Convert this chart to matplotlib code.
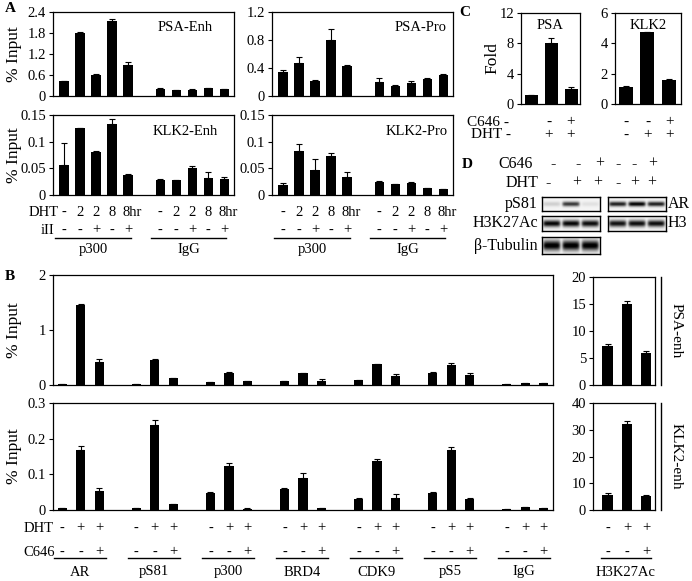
import numpy as np
import matplotlib
matplotlib.use("Agg")
import matplotlib.pyplot as plt
from matplotlib import transforms
from matplotlib.lines import Line2D

plt.rcParams["font.family"] = ["Liberation Serif", "DejaVu Serif"]
plt.rcParams["font.size"] = 10.5

# %% data
# panel A  (p300 bars then IgG bars)
a_dht = ["-", "2", "2", "8", "8hr"]
a_iii = ["-", "-", "+", "-", "+"]
a_psa_enh = [0.42, 1.79, 0.60, 2.13, 0.88, 0.21, 0.16, 0.18, 0.22, 0.19]
a_psa_enh_err = [0.02, 0.04, 0.02, 0.08, 0.10, 0.01, 0.01, 0.01, 0.02, 0.01]
a_psa_pro = [0.34, 0.475, 0.21, 0.80, 0.43, 0.20, 0.145, 0.19, 0.24, 0.30]
a_psa_pro_err = [0.03, 0.08, 0.02, 0.16, 0.01, 0.06, 0.01, 0.02, 0.02, 0.02]
a_klk2_enh = [0.057, 0.125, 0.080, 0.133, 0.037, 0.029, 0.028, 0.050, 0.032, 0.030]
a_klk2_enh_err = [0.040, 0.001, 0.003, 0.009, 0.003, 0.001, 0.001, 0.004, 0.011, 0.004]
a_klk2_pro = [0.018, 0.083, 0.047, 0.073, 0.033, 0.025, 0.021, 0.022, 0.0125, 0.011]
a_klk2_pro_err = [0.004, 0.012, 0.020, 0.005, 0.010, 0.0005, 0.0005, 0.003, 0.001, 0.001]

# panel B
b_groups = ["AR", "pS81", "p300", "BRD4", "CDK9", "pS5", "IgG"]
b_dht = ["-", "+", "+"]
b_c646 = ["-", "-", "+"]
b_psa = [[0.02, 1.45, 0.42], [0.01, 0.46, 0.12], [0.05, 0.22, 0.07], [0.08, 0.21, 0.08],
         [0.09, 0.38, 0.16], [0.22, 0.36, 0.19], [0.01, 0.03, 0.03]]
b_psa_err = [[0.0, 0.02, 0.06], [0.0, 0.01, 0.01], [0.0, 0.01, 0.01], [0.0, 0.01, 0.03],
             [0.0, 0.01, 0.04], [0.01, 0.04, 0.03], [0.0, 0.0, 0.0]]
b_klk2 = [[0.006, 0.168, 0.053], [0.006, 0.238, 0.016], [0.047, 0.124, 0.004], [0.058, 0.090, 0.006],
          [0.031, 0.137, 0.035], [0.047, 0.167, 0.030], [0.003, 0.008, 0.005]]
b_klk2_err = [[0.001, 0.012, 0.008], [0.001, 0.013, 0.001], [0.003, 0.009, 0.001], [0.004, 0.014, 0.001],
              [0.004, 0.005, 0.009], [0.003, 0.009, 0.003], [0.0, 0.001, 0.001]]
h3_psa = [7.2, 15.0, 6.0]
h3_psa_err = [0.4, 0.6, 0.3]
h3_klk2 = [5.7, 32.0, 5.2]
h3_klk2_err = [0.8, 1.2, 0.5]

# panel C
c_psa = [1.15, 8.0, 2.0]
c_psa_err = [0.08, 0.7, 0.3]
c_klk2 = [1.1, 4.72, 1.6]
c_klk2_err = [0.08, 0.03, 0.03]

# panel D  (band intensities per lane)
d_c646 = ["-", "-", "+", "-", "-", "+"]
d_dht = ["-", "+", "+", "-", "+", "+"]
d_ps81 = [0.15, 0.75, 0.08]
d_ar = [0.85, 0.97, 0.85]
d_h3k27ac = [0.95, 0.95, 0.92]
d_h3 = [0.9, 0.92, 0.92]
d_tubulin = [1.0, 1.0, 1.0]

# %% helpers
W, H = 692, 581
fig = plt.figure(figsize=(W / 100, H / 100), dpi=100)


def box(x0, y0, x1, y1):
    return fig.add_axes([x0 / W, 1 - y1 / H, (x1 - x0) / W, (y1 - y0) / H])


def ftext(x, y, s, **kw):
    kw.setdefault("va", "center")
    fig.text(x / W, 1 - y / H, s, **kw)


def under(ax, x, ypix, s, **kw):
    tr = transforms.blended_transform_factory(ax.transData, fig.transFigure)
    kw.setdefault("ha", "center")
    kw.setdefault("va", "center")
    fig.text(x, 1 - ypix / H, s, transform=tr, **kw)


def underline(ax, x0, x1, ypix):
    tr = transforms.blended_transform_factory(ax.transData, fig.transFigure)
    fig.add_artist(Line2D([x0, x1], [1 - ypix / H] * 2, transform=tr, color="black", lw=1.0))


def vline(xpix, y0, y1):
    fig.add_artist(Line2D([xpix / W] * 2, [1 - y0 / H, 1 - y1 / H], transform=fig.transFigure,
                          color="black", lw=1.0))


def bars(ax, x, y, err, width, xlim, ylim, yticks, yticklabels):
    ax.bar(x, y, width, color="black")
    ax.errorbar(x, y, yerr=[np.zeros(len(err)), err], fmt="none", ecolor="black",
                elinewidth=0.8, capsize=2.5, capthick=0.8)
    ax.set_xlim(*xlim)
    ax.set_ylim(*ylim)
    ax.set_yticks(yticks)
    ax.set_yticklabels(yticklabels)
    ax.tick_params(axis="x", bottom=False, labelbottom=False)
    ax.tick_params(axis="y", direction="out", length=3, width=0.8, pad=2, labelsize=10.5)
    for s in ax.spines.values():
        s.set_linewidth(0.9)


def blot(ax, intens, sigma):
    n = len(intens)
    xs = np.linspace(0, n, 60 * n)
    ys = np.linspace(-1, 1, 40)
    img = np.full((len(ys), len(xs)), 0.04)
    for i, a in enumerate(intens):
        lane = np.exp(-((xs - (i + 0.5)) / 0.45) ** 8)
        band = np.exp(-(ys / sigma) ** 2)
        img += a * np.outer(band, lane)
    ax.imshow(np.clip(img, 0, 1), cmap="gray_r", vmin=0, vmax=1, aspect="auto",
              extent=[0, n, -1, 1], interpolation="bilinear")
    ax.set_xticks([])
    ax.set_yticks([])
    for s in ax.spines.values():
        s.set_linewidth(1.0)


# %% panel A
a_x = [0, 1, 2, 3, 4, 6, 7, 8, 9, 10]
a_xlim = (-0.7, 10.6)
ax_a1 = box(53, 12, 234, 96)
bars(ax_a1, a_x, a_psa_enh, a_psa_enh_err, 0.6, a_xlim, (0, 2.4),
     [0, 0.6, 1.2, 1.8, 2.4], ["0", "0.6", "1.2", "1.8", "2.4"])
ax_a1.text(0.73, 0.82, "PSA-Enh", transform=ax_a1.transAxes, ha="center", va="center")

ax_a2 = box(272, 12, 453, 96)
bars(ax_a2, a_x, a_psa_pro, a_psa_pro_err, 0.6, a_xlim, (0, 1.2),
     [0, 0.4, 0.8, 1.2], ["0", "0.4", "0.8", "1.2"])
ax_a2.text(0.82, 0.82, "PSA-Pro", transform=ax_a2.transAxes, ha="center", va="center")

ax_a3 = box(53, 115, 234, 195)
bars(ax_a3, a_x, a_klk2_enh, a_klk2_enh_err, 0.6, a_xlim, (0, 0.15),
     [0, 0.05, 0.1, 0.15], ["0", "0.05", "0.1", "0.15"])
ax_a3.text(0.73, 0.79, "KLK2-Enh", transform=ax_a3.transAxes, ha="center", va="center")

ax_a4 = box(272, 115, 453, 195)
bars(ax_a4, a_x, a_klk2_pro, a_klk2_pro_err, 0.6, a_xlim, (0, 0.15),
     [0, 0.05, 0.1, 0.15], ["0", "0.05", "0.1", "0.15"])
ax_a4.text(0.80, 0.79, "KLK2-Pro", transform=ax_a4.transAxes, ha="center", va="center")

for ax in [ax_a3, ax_a4]:
    for k, x in enumerate(a_x):
        lab = a_dht[k % 5]
        under(ax, x + (0.25 if lab == "8hr" else 0), 212, lab)
        under(ax, x, 230, a_iii[k % 5])
    underline(ax, -0.6, 4.2, 238)
    underline(ax, 5.4, 10.1, 238)
    under(ax, 1.8, 250, "p300")
    under(ax, 7.75, 250, "IgG")
ftext(59, 212, "DHT", ha="right")
ftext(54, 230, "iII", ha="right")
ftext(14, 54, "% Input", rotation=90, ha="center", fontsize=12.5)
ftext(14, 155, "% Input", rotation=90, ha="center", fontsize=12.5)
ftext(10, 8, "A", fontweight="bold", fontsize=11, ha="center")

# %% panel C
ax_c1 = box(521, 13, 580, 104)
bars(ax_c1, [0, 1, 2], c_psa, c_psa_err, 0.65, (-0.5, 2.45), (0, 12),
     [0, 4, 8, 12], ["0", "4", "8", "12"])
ax_c1.text(0.5, 0.86, "PSA", transform=ax_c1.transAxes, ha="center", va="center")
ax_c2 = box(615, 13, 681, 104)
bars(ax_c2, [0, 1, 2], c_klk2, c_klk2_err, 0.65, (-0.5, 2.55), (0, 6),
     [0, 2, 4, 6], ["0", "2", "4", "6"])
ax_c2.text(0.5, 0.86, "KLK2", transform=ax_c2.transAxes, ha="center", va="center")
ftext(492, 58, "Fold", rotation=90, ha="center", fontsize=12.5)
ftext(509, 122, "C646 -", ha="right", fontsize=11)
ftext(511, 135, "DHT -", ha="right", fontsize=11)
under(ax_c1, 0.9, 122, "-", fontsize=11)
under(ax_c1, 2, 122, "+", fontsize=11)
under(ax_c1, 0.9, 135, "+", fontsize=11)
under(ax_c1, 2, 135, "+", fontsize=11)
for k in range(3):
    under(ax_c2, k, 122, b_c646[k], fontsize=11)
    under(ax_c2, k, 135, b_dht[k], fontsize=11)
ftext(465, 13, "C", fontweight="bold", fontsize=11, ha="center")

# %% panel D
ftext(467, 165, "D", fontweight="bold", fontsize=11, ha="center")
ftext(533, 164, "C646", ha="right", fontsize=11.5)
ftext(538, 183, "DHT", ha="right", fontsize=11.5)
for xp, s in zip([553, 578, 600, 618, 634, 653], d_c646):
    ftext(xp, 164, s, ha="center", fontsize=11.5)
for xp, s in zip([548, 577, 598, 618, 635, 652], d_dht):
    ftext(xp, 183, s, ha="center", fontsize=11.5)
blot(box(542, 197, 600, 211), d_ps81, 0.35)
blot(box(608, 197, 666, 211), d_ar, 0.35)
blot(box(542, 216, 600, 231), d_h3k27ac, 0.45)
blot(box(608, 216, 666, 231), d_h3, 0.45)
blot(box(542, 237, 600, 254), d_tubulin, 0.6)
ftext(538, 204, "pS81", ha="right", fontsize=11.5)
ftext(538, 223, "H3K27Ac", ha="right", fontsize=11.5)
ftext(538, 246, "β-Tubulin", ha="right", fontsize=11.5)
ftext(668, 204, "AR", ha="left", fontsize=11.5)
ftext(668, 223, "H3", ha="left", fontsize=11.5)

# %% panel B
b_xlim = (-0.5, 26.5)
ax_b1 = box(53, 275, 553, 385)
ax_b3 = box(53, 403, 553, 510)
for g in range(len(b_groups)):
    xs = [4 * g, 4 * g + 1, 4 * g + 2]
    ax_b1.bar(xs, b_psa[g], 0.5, color="black")
    ax_b1.errorbar(xs, b_psa[g], yerr=[[0, 0, 0], b_psa_err[g]], fmt="none", ecolor="black",
                   elinewidth=0.8, capsize=2.5, capthick=0.8)
    ax_b3.bar(xs, b_klk2[g], 0.5, color="black")
    ax_b3.errorbar(xs, b_klk2[g], yerr=[[0, 0, 0], b_klk2_err[g]], fmt="none", ecolor="black",
                   elinewidth=0.8, capsize=2.5, capthick=0.8)
for ax, ylim, ticks, labels in [(ax_b1, (0, 2), [0, 1, 2], ["0", "1", "2"]),
                                (ax_b3, (0, 0.3), [0, 0.1, 0.2, 0.3], ["0", "0.1", "0.2", "0.3"])]:
    ax.set_xlim(*b_xlim)
    ax.set_ylim(*ylim)
    ax.set_yticks(ticks)
    ax.set_yticklabels(labels)
    ax.tick_params(axis="x", bottom=False, labelbottom=False)
    ax.tick_params(axis="y", direction="out", length=3, width=0.8, pad=2, labelsize=10.5)
    for s in ax.spines.values():
        s.set_linewidth(0.9)

ax_b2 = box(593, 277, 655, 385)
bars(ax_b2, [0, 1, 2], h3_psa, h3_psa_err, 0.52, (-0.75, 2.45), (0, 20),
     [0, 5, 10, 15, 20], ["0", "5", "10", "15", "20"])
ax_b4 = box(593, 403, 655, 510)
bars(ax_b4, [0, 1, 2], h3_klk2, h3_klk2_err, 0.52, (-0.75, 2.45), (0, 40),
     [0, 10, 20, 30, 40], ["0", "10", "20", "30", "40"])

for g, name in enumerate(b_groups):
    for k in range(3):
        under(ax_b3, 4 * g + k, 528, b_dht[k])
        under(ax_b3, 4 * g + k, 552, b_c646[k])
    underline(ax_b3, 4 * g - 0.45, 4 * g + 2.35, 558)
    under(ax_b3, 4 * g + 0.95, 572, name)
for k in range(3):
    under(ax_b4, k, 528, b_dht[k])
    under(ax_b4, k, 552, b_c646[k])
underline(ax_b4, -0.35, 2.25, 558)
under(ax_b4, 0.95, 572, "H3K27Ac")

ftext(54, 528, "DHT", ha="right")
ftext(55, 552, "C646", ha="right")
ftext(14, 330, "% Input", rotation=90, ha="center", fontsize=12.5)
ftext(14, 456, "% Input", rotation=90, ha="center", fontsize=12.5)
ftext(10, 277, "B", fontweight="bold", fontsize=11, ha="center")

vline(661, 277, 385)
vline(661, 403, 510)
ftext(676, 331, "PSA-enh", rotation=-90, ha="center", fontsize=11)
ftext(676, 456, "KLK2-enh", rotation=-90, ha="center", fontsize=11)

fig.savefig("out.png", dpi=100, facecolor="white")
